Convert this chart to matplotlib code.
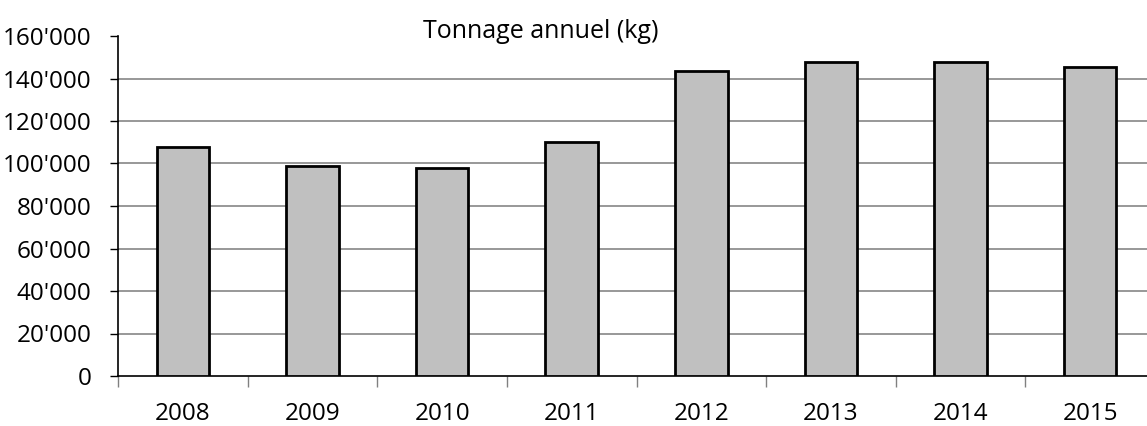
import matplotlib.pyplot as plt
from matplotlib.ticker import FuncFormatter

years = ["2008", "2009", "2010", "2011", "2012", "2013", "2014", "2015"]
tonnage = [107800, 99000, 98000, 110200, 143500, 147700, 147700, 145600]
y_ticks = [0, 20000, 40000, 60000, 80000, 100000, 120000, 140000, 160000]

plt.rcParams['font.family'] = ['Open Sans', 'DejaVu Sans']

fig = plt.figure(figsize=(11.47, 4.26), dpi=100)
# axes runs a bit past the right edge of the picture, as in the original
ax = fig.add_axes([118 / 1147, 50 / 426, 1037 / 1147, 340 / 426])

x = list(range(len(years)))
ax.bar(x, tonnage, width=0.405, color="#c0c0c0", edgecolor="black", linewidth=2, zorder=3)

# gridlines (not on top edge)
for v in y_ticks[1:-1]:
    ax.axhline(v, color="#868686", linewidth=1.2, zorder=1)

ax.set_ylim(0, 160000)
ax.set_xlim(-0.5, len(years) - 0.5)
ax.set_yticks(y_ticks)
ax.yaxis.set_major_formatter(FuncFormatter(lambda v, p: f"{v:,.0f}".replace(",", "'")))
ax.tick_params(axis="y", length=6, width=1, pad=13, labelsize=17.5, colors="black")

# tick marks between categories, labels centred on bars
ax.set_xticks([i - 0.5 for i in range(len(years) + 1)])
ax.set_xticklabels([])
ax.set_xticks(x, minor=True)
ax.set_xticklabels(years, minor=True)
ax.tick_params(axis="x", which="major", length=8, width=1, color="#808080")
ax.tick_params(axis="x", which="minor", length=0, pad=19, labelsize=17.5)

for s in ["top", "right"]:
    ax.spines[s].set_visible(False)
ax.spines["left"].set_linewidth(1.2)
ax.spines["bottom"].set_linewidth(1.2)

fig.text(541 / 1147, 1 - 32 / 426, "Tonnage annuel (kg)", ha="center", va="center", fontsize=18)

fig.savefig("out.png", dpi=100)
